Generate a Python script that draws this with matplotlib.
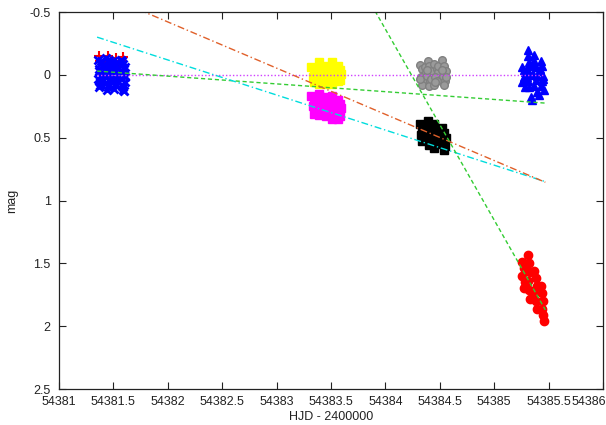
import matplotlib
matplotlib.use("Agg")
import matplotlib.pyplot as plt
import matplotlib.transforms as mtrans
from matplotlib.ticker import FixedLocator, FixedFormatter

plt.rcParams['font.family'] = ['Liberation Sans', 'DejaVu Sans']

# ---------------- data ----------------
# night 1 : blue x markers
n1_blue_x = [54381.36, 54381.38, 54381.40, 54381.37, 54381.39, 54381.36, 54381.40, 54381.38, 54381.37,
             54381.39, 54381.37, 54381.39, 54381.38, 54381.40,
             54381.43, 54381.45, 54381.47, 54381.44, 54381.46, 54381.43, 54381.47, 54381.45, 54381.44,
             54381.46, 54381.44, 54381.46, 54381.45, 54381.43,
             54381.50, 54381.52, 54381.54, 54381.51, 54381.53, 54381.50, 54381.54, 54381.52, 54381.51,
             54381.53, 54381.51, 54381.53, 54381.52, 54381.50,
             54381.57, 54381.59, 54381.61, 54381.58, 54381.60, 54381.57, 54381.61, 54381.59, 54381.60,
             54381.58, 54381.60, 54381.58, 54381.61, 54381.59]
n1_blue_y = [-0.12, -0.09, -0.06, -0.03, 0.00, 0.03, 0.05, 0.08, 0.10,
             -0.11, -0.05, 0.01, 0.06, -0.08,
             -0.13, -0.10, -0.07, -0.04, -0.01, 0.02, 0.05, 0.08, 0.12,
             -0.12, -0.06, 0.03, 0.10, -0.02,
             -0.11, -0.08, -0.05, -0.02, 0.01, 0.03, 0.06, 0.09, 0.11,
             -0.10, -0.04, 0.04, 0.07, -0.07,
             -0.12, -0.09, -0.06, -0.03, 0.00, 0.03, 0.06, 0.10, 0.13,
             -0.11, -0.05, 0.08, 0.02, 0.12]
# night 1 : red + markers
n1_red_x = [54381.37, 54381.38, 54381.45, 54381.44, 54381.52, 54381.51, 54381.59, 54381.58, 54381.41, 54381.55]
n1_red_y = [-0.15, -0.11, -0.15, -0.11, -0.13, -0.10, -0.14, -0.11, -0.09, -0.09]

# night 2 : yellow
n2_yel_x = [54383.32, 54383.34, 54383.36, 54383.33, 54383.35, 54383.34,
            54383.39, 54383.40, 54383.41, 54383.38, 54383.40, 54383.39,
            54383.45, 54383.46, 54383.47, 54383.44, 54383.46, 54383.45,
            54383.51, 54383.52, 54383.53, 54383.50, 54383.52, 54383.51,
            54383.56, 54383.58, 54383.59, 54383.57, 54383.58, 54383.56]
n2_yel_y = [-0.06, -0.03, -0.01, 0.02, 0.04, 0.06,
            -0.10, -0.06, -0.03, 0.01, 0.04, 0.07,
            -0.07, -0.04, -0.01, 0.02, 0.05, 0.07,
            -0.10, -0.06, -0.03, 0.01, 0.04, 0.07,
            -0.07, -0.04, -0.01, 0.02, 0.04, 0.05]
# night 2 : magenta
n2_mag_x = [54383.32, 54383.34, 54383.36, 54383.33, 54383.35, 54383.34,
            54383.39, 54383.40, 54383.41, 54383.38, 54383.40, 54383.39,
            54383.45, 54383.46, 54383.47, 54383.44, 54383.46, 54383.45,
            54383.51, 54383.52, 54383.53, 54383.50, 54383.52, 54383.51,
            54383.56, 54383.58, 54383.59, 54383.57, 54383.58, 54383.56]
n2_mag_y = [0.17, 0.20, 0.23, 0.25, 0.28, 0.31,
            0.15, 0.18, 0.22, 0.26, 0.29, 0.32,
            0.18, 0.21, 0.24, 0.27, 0.30, 0.33,
            0.17, 0.21, 0.25, 0.29, 0.32, 0.35,
            0.20, 0.23, 0.26, 0.30, 0.33, 0.35]

# night 3 : gray circles
n3_gray_x = [54384.32, 54384.34, 54384.36, 54384.33, 54384.35, 54384.34, 54384.36, 54384.32,
             54384.39, 54384.40, 54384.42, 54384.38, 54384.41, 54384.40, 54384.38, 54384.42,
             54384.45, 54384.47, 54384.48, 54384.46, 54384.47, 54384.45, 54384.48, 54384.46,
             54384.52, 54384.54, 54384.56, 54384.53, 54384.55, 54384.54, 54384.52, 54384.56]
n3_gray_y = [-0.08, -0.05, -0.01, 0.02, 0.05, 0.08, -0.06, 0.03,
             -0.11, -0.07, -0.03, 0.01, 0.05, 0.09, -0.04, 0.03,
             -0.09, -0.05, -0.02, 0.02, 0.05, 0.08, -0.07, 0.06,
             -0.12, -0.07, -0.03, 0.01, 0.05, 0.08, -0.04, 0.02]
# night 3 : black squares
n3_blk_x = [54384.32, 54384.34, 54384.36, 54384.33, 54384.35, 54384.34,
            54384.39, 54384.40, 54384.42, 54384.38, 54384.41, 54384.40,
            54384.45, 54384.47, 54384.48, 54384.46, 54384.47, 54384.45,
            54384.52, 54384.54, 54384.56, 54384.53, 54384.55, 54384.54]
n3_blk_y = [0.39, 0.42, 0.45, 0.48, 0.51, 0.53,
            0.37, 0.41, 0.45, 0.49, 0.53, 0.56,
            0.39, 0.43, 0.47, 0.51, 0.55, 0.58,
            0.42, 0.46, 0.50, 0.54, 0.57, 0.60]

# night 4 : blue triangles
n4_blue_x = [54385.26, 54385.28, 54385.27, 54385.26, 54385.28, 54385.27, 54385.29,
             54385.31, 54385.31, 54385.32, 54385.30, 54385.33, 54385.31, 54385.32, 54385.34, 54385.33, 54385.30,
             54385.37, 54385.37, 54385.38, 54385.36, 54385.38, 54385.37, 54385.39, 54385.35, 54385.36, 54385.39,
             54385.43, 54385.44, 54385.42, 54385.45, 54385.44, 54385.43, 54385.46, 54385.41, 54385.42, 54385.45]
n4_blue_y = [-0.06, -0.02, 0.02, 0.06, 0.10, -0.04, 0.04,
             -0.20, -0.15, -0.10, -0.05, 0.00, 0.05, 0.10, 0.18, -0.07, 0.02,
             -0.16, -0.11, -0.06, -0.01, 0.04, 0.09, 0.14, 0.20, -0.08, 0.01,
             -0.11, -0.07, -0.03, 0.01, 0.05, 0.09, 0.12, 0.16, -0.05, 0.03]
# night 4 : red circles
n4_red_x = [54385.26, 54385.27, 54385.26, 54385.28, 54385.27,
            54385.31, 54385.32, 54385.33, 54385.31, 54385.32, 54385.33,
            54385.37, 54385.38, 54385.39, 54385.37, 54385.38, 54385.39,
            54385.43, 54385.44, 54385.45, 54385.44, 54385.45, 54385.46]
n4_red_y = [1.49, 1.54, 1.60, 1.65, 1.70,
            1.43, 1.50, 1.57, 1.64, 1.71, 1.78,
            1.56, 1.62, 1.68, 1.74, 1.80, 1.86,
            1.68, 1.74, 1.80, 1.86, 1.91, 1.96]

# fitted lines (end points)
fit_x = [54381.35, 54385.47]
fit_magenta = [0.0, 0.0]
fit_green1 = [-0.03, 0.225]
fit_cyan = [-0.30, 0.85]
fit_orange = [-0.66, 0.855]
fit_green2 = [-4.39, 1.87]

xticks = [54381 + 0.5 * i for i in range(11)]
xtick_labels = ['54381', '54381.5', '54382', '54382.5', '54383', '54383.5',
                '54384', '54384.5', '54385', '54385.5', '54386']
yticks = [-0.5, 0, 0.5, 1, 1.5, 2, 2.5]
ytick_labels = ['-0.5', '0', '0.5', '1', '1.5', '2', '2.5']

# ---------------- plot ----------------
fig = plt.figure(figsize=(6.06, 4.25), dpi=100)
ax = fig.add_axes([59 / 606, 36 / 425, 544 / 606, 377 / 425])

ax.plot(n1_red_x, n1_red_y, '+', color='#ff0000', ms=7, mew=1.5, ls='none')
ax.plot(n1_blue_x, n1_blue_y, 'x', color='#0000ff', ms=6, mew=2.0, ls='none')
ax.plot(n2_yel_x, n2_yel_y, 's', color='#ffff00', ms=6, mec='#ffff00', ls='none')
ax.plot(n2_mag_x, n2_mag_y, 's', color='#ff00ff', ms=5.5, mec='#ff00ff', ls='none')
ax.plot(n3_gray_x, n3_gray_y, 'o', mfc='#9a9a9a', mec='#808080', ms=5.5, mew=1.0, ls='none')
ax.plot(n3_blk_x, n3_blk_y, 's', color='#000000', ms=6, ls='none')
ax.plot(n4_blue_x, n4_blue_y, '^', mfc='#0000ff', mec='#0000ff', ms=5.5, mew=1.0, ls='none')
ax.plot(n4_red_x, n4_red_y, 'o', color='#ff0000', ms=6, ls='none')

ax.plot(fit_x, fit_magenta, color='#d040ff', lw=1.0, ls=(0, (1, 1.5)))
ax.plot(fit_x, fit_green1, color='#33cc33', lw=1.0, ls=(0, (3, 2)))
ax.plot(fit_x, fit_cyan, color='#00dddd', lw=1.0, ls=(0, (5, 2, 1, 2)))
ax.plot(fit_x, fit_orange, color='#e0602a', lw=1.0, ls=(0, (5, 2, 1, 2)))
ax.plot(fit_x, fit_green2, color='#33cc33', lw=1.0, ls=(0, (3, 2)))

ax.set_xlim(54381, 54386)
ax.set_ylim(2.5, -0.5)
ax.xaxis.set_major_locator(FixedLocator(xticks))
ax.xaxis.set_major_formatter(FixedFormatter(xtick_labels))
ax.yaxis.set_major_locator(FixedLocator(yticks))
ax.yaxis.set_major_formatter(FixedFormatter(ytick_labels))
ax.tick_params(direction='in', length=5, width=0.8, labelsize=9, colors='#222222',
               top=True, right=True)
ax.tick_params(axis='x', pad=5)
ax.tick_params(axis='y', pad=6)
xl = ax.get_xticklabels()
xl[-1].set_horizontalalignment('right')
xl[-1].set_transform(xl[-1].get_transform() + mtrans.ScaledTranslation(0.03, 0, fig.dpi_scale_trans))
for s in ax.spines.values():
    s.set_linewidth(0.9)
    s.set_color('#222222')
ax.set_xlabel('HJD - 2400000', fontsize=9, color='#222222', labelpad=2)
ax.set_ylabel('mag', fontsize=9, color='#222222', labelpad=8)

fig.savefig('out.png', dpi=100)
